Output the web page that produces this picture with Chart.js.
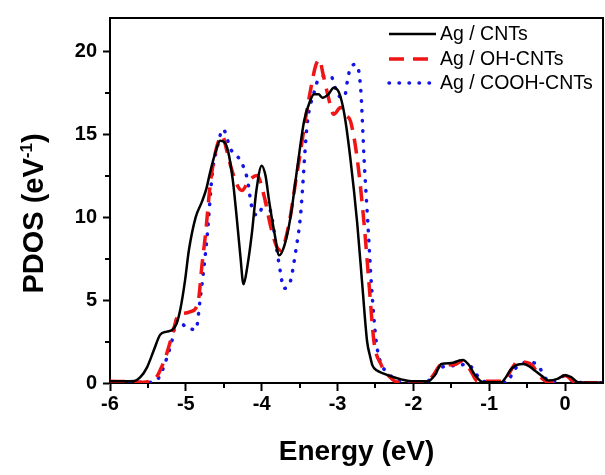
<!DOCTYPE html>
<html>
<head>
<meta charset="utf-8">
<script src="https://cdn.jsdelivr.net/npm/chart.js@4.4.1/dist/chart.umd.min.js"></script>
<style>
  html, body { margin: 0; padding: 0; background: #fff; }
</style>
</head>
<body>
<canvas id="pdosChart" width="605" height="475"></canvas>
<script>
// values
const cntsE = [-6.0, -5.8, -5.68, -5.6, -5.51, -5.42, -5.34, -5.25, -5.18, -5.12, -5.07, -5.01, -4.96, -4.87, -4.79, -4.73,
  -4.68, -4.61, -4.55, -4.49, -4.44, -4.38, -4.33, -4.28, -4.24, -4.19, -4.13, -4.07, -4.0, -3.95, -3.90, -3.83,
  -3.77, -3.70, -3.62, -3.53, -3.44, -3.37, -3.31, -3.25, -3.20, -3.12, -3.05, -2.98, -2.91, -2.83, -2.74, -2.67,
  -2.61, -2.57, -2.54, -2.48, -2.39, -2.28, -2.16, -2.0, -1.81, -1.72, -1.63, -1.50, -1.40, -1.35, -1.27, -1.19,
  -1.08, -0.84, -0.78, -0.71, -0.63, -0.55, -0.47, -0.40, -0.30, -0.22, -0.10, 0.0, 0.08, 0.17, 0.3, 0.5];
const cntsV = [0.1, 0.1, 0.12, 0.35, 0.96, 2.0, 2.9, 3.1, 3.2, 3.6, 4.5, 6.2, 8.0, 10.0, 10.9, 11.7,
  12.7, 13.9, 14.6, 14.5, 13.9, 12.2, 10.0, 7.6, 5.95, 7.0, 9.0, 11.6, 13.1, 12.5, 10.9, 9.0,
  7.7, 8.3, 10.0, 13.0, 15.8, 16.9, 17.4, 17.4, 17.2, 17.4, 17.8, 17.5, 16.2, 13.5, 9.6, 5.7,
  2.5, 1.6, 1.06, 0.75, 0.57, 0.38, 0.22, 0.1, 0.1, 0.45, 1.15, 1.2, 1.35, 1.39, 1.1, 0.5,
  0.05, 0.05, 0.35, 0.85, 1.1, 1.15, 1.0, 0.75, 0.4, 0.15, 0.25, 0.47, 0.35, 0.05, 0.02, 0.02];

const ohE = [-6.0, -5.7, -5.56, -5.45, -5.38, -5.32, -5.25, -5.18, -5.10, -5.02, -4.94, -4.87, -4.83, -4.79, -4.74, -4.68,
  -4.61, -4.52, -4.46, -4.41, -4.32, -4.26, -4.17, -4.06, -3.97, -3.88, -3.80, -3.75, -3.64, -3.55, -3.49, -3.42,
  -3.35, -3.29, -3.24, -3.19, -3.13, -3.05, -2.96, -2.88, -2.83, -2.74, -2.65, -2.58, -2.52, -2.43, -2.32, -2.2,
  -1.85, -1.75, -1.63, -1.46, -1.37, -1.26, -1.15, -0.82, -0.75, -0.62, -0.53, -0.44, -0.33, -0.22, -0.1, 0.0,
  0.13, 0.3, 0.5];
const ohV = [0.1, 0.08, 0.05, 0.15, 0.4, 0.96, 1.8, 2.9, 4.1, 4.2, 4.3, 4.5, 5.1, 7.0, 9.0, 11.9,
  13.9, 14.9, 14.0, 13.1, 11.9, 11.6, 12.2, 12.5, 11.3, 9.4, 8.2, 8.0, 9.6, 12.2, 13.9, 16.0,
  17.8, 19.1, 19.5, 18.6, 17.4, 16.2, 16.6, 16.1, 15.8, 13.5, 9.6, 5.7, 2.5, 1.15, 0.4, 0.05,
  0.05, 0.4, 1.1, 1.1, 1.3, 0.85, 0.1, 0.1, 0.5, 1.3, 1.25, 1.1, 0.4, 0.05, 0.2, 0.45,
  0.05, 0.02, 0.02];

const coohE = [-6.0, -5.6, -5.43, -5.36, -5.29, -5.18, -5.12, -5.05, -4.99, -4.93, -4.87, -4.81, -4.72, -4.65, -4.59, -4.51,
  -4.41, -4.28, -4.19, -4.13, -4.04, -3.97, -3.88, -3.80, -3.75, -3.71, -3.66, -3.62, -3.55, -3.49, -3.40, -3.31,
  -3.24, -3.16, -3.09, -3.00, -2.91, -2.87, -2.83, -2.76, -2.72, -2.69, -2.65, -2.60, -2.55, -2.49, -2.43, -2.34,
  -2.2, -1.85, -1.77, -1.63, -1.41, -1.28, -1.19, -1.08, -0.75, -0.71, -0.64, -0.49, -0.36, -0.27, -0.18, -0.08,
  0.0, 0.13, 0.3, 0.5];
const coohV = [0.05, 0.05, 0.05, 0.3, 1.0, 2.6, 3.8, 3.6, 3.3, 3.25, 3.2, 5.1, 8.8, 12.7, 14.1, 15.3,
  14.1, 13.4, 12.3, 10.6, 10.1, 10.9, 10.3, 8.0, 6.6, 5.7, 5.8, 6.15, 8.0, 10.0, 15.6, 17.5,
  18.4, 18.5, 18.5, 17.4, 17.2, 18.2, 19.0, 19.2, 18.8, 17.4, 13.5, 9.6, 5.7, 2.5, 1.2, 0.65,
  0.1, 0.05, 0.25, 0.95, 1.05, 1.15, 0.65, 0.1, 0.05, 0.45, 0.95, 1.25, 1.1, 0.35, 0.05, 0.25,
  0.45, 0.05, 0.02, 0.02];

const seriesNames = ['Ag / CNTs', 'Ag / OH-CNTs', 'Ag / COOH-CNTs'];
const xTicksMinor = [-5.5, -4.5, -3.5, -2.5, -1.5, -0.5];
const yTicksMinor = [2.5, 7.5, 12.5, 17.5];

const FONT = '"Liberation Sans", Arial, Helvetica, sans-serif';

function toPoints(xs, ys) {
  return xs.map((x, i) => ({ x: x, y: ys[i] }));
}

// frame, minor ticks, axis titles and legend
const decorPlugin = {
  id: 'decor',
  beforeDraw(chart) {
    const c = chart.ctx;
    c.save();
    c.fillStyle = '#fff';
    c.fillRect(0, 0, chart.width, chart.height);
    c.restore();
  },
  afterDraw(chart) {
    const c = chart.ctx;
    const a = chart.chartArea;
    const xs = chart.scales.x, ys = chart.scales.y;
    c.save();
    c.strokeStyle = '#000';
    c.lineWidth = 2;
    c.beginPath();
    c.moveTo(a.left, a.top);
    c.lineTo(a.right, a.top);
    c.lineTo(a.right, a.bottom);
    c.stroke();

    // minor ticks
    c.beginPath();
    xTicksMinor.forEach(v => {
      const px = Math.round(xs.getPixelForValue(v));
      c.moveTo(px, a.bottom);
      c.lineTo(px, a.bottom + 5);
    });
    yTicksMinor.forEach(v => {
      const py = Math.round(ys.getPixelForValue(v));
      c.moveTo(a.left - 5, py);
      c.lineTo(a.left, py);
    });
    c.stroke();

    // x title
    c.fillStyle = '#000';
    c.font = 'bold 28px ' + FONT;
    c.textAlign = 'center';
    c.textBaseline = 'alphabetic';
    c.fillText('Energy (eV)', (a.left + a.right) / 2, 460);

    // y title with superscript
    c.save();
    c.translate(43, (a.top + a.bottom) / 2 + 13);
    c.rotate(-Math.PI / 2);
    c.textAlign = 'left';
    const big = 'bold 29px ' + FONT, small = 'bold 17px ' + FONT;
    c.font = big;
    const w1 = c.measureText('PDOS (eV').width;
    const w3 = c.measureText(')').width;
    c.font = small;
    const w2 = c.measureText('-1').width;
    let x0 = -(w1 + w2 + w3) / 2;
    c.font = big;
    c.fillText('PDOS (eV', x0, 0);
    c.font = small;
    c.fillText('-1', x0 + w1, -11);
    c.font = big;
    c.fillText(')', x0 + w1 + w2, 0);
    c.restore();

    // legend
    const rows = [34, 59, 83];
    chart.data.datasets.forEach((ds, i) => {
      c.save();
      c.strokeStyle = ds.borderColor;
      c.lineWidth = ds.borderWidth;
      c.lineCap = ds.borderCapStyle || 'butt';
      c.setLineDash(ds.borderDash || []);
      c.beginPath();
      c.moveTo(389, rows[i]);
      c.lineTo(436, rows[i]);
      c.stroke();
      c.restore();
      c.fillStyle = '#000';
      c.font = '19.5px ' + FONT;
      c.textAlign = 'left';
      c.textBaseline = 'middle';
      c.fillText(ds.label, 440, rows[i] + 1);
    });
    c.restore();
  }
};

const tickFont = { family: FONT, size: 20, weight: 'bold' };

new Chart(document.getElementById('pdosChart'), {
  type: 'line',
  data: {
    datasets: [
      {
        label: seriesNames[0],
        data: toPoints(cntsE, cntsV),
        borderColor: '#000000',
        borderWidth: 2.5,
        borderDash: []
      },
      {
        label: seriesNames[1],
        data: toPoints(ohE, ohV),
        borderColor: '#f01414',
        borderWidth: 3.5,
        borderDash: [15, 9]
      },
      {
        label: seriesNames[2],
        data: toPoints(coohE, coohV),
        borderColor: '#1414e6',
        borderWidth: 3.5,
        borderCapStyle: 'round',
        borderDash: [0.5, 9.5]
      }
    ]
  },
  options: {
    responsive: false,
    animation: false,
    layout: { padding: { top: 9, right: 2, left: 0, bottom: 0 } },
    elements: {
      point: { radius: 0 },
      line: { cubicInterpolationMode: 'monotone', fill: false }
    },
    plugins: {
      legend: { display: false },
      tooltip: { enabled: false }
    },
    scales: {
      x: {
        type: 'linear',
        min: -6,
        max: 0.5,
        ticks: {
          stepSize: 1,
          includeBounds: false,
          autoSkip: false,
          maxRotation: 0,
          color: '#000',
          font: tickFont,
          padding: 1,
          callback: v => String(v)
        },
        grid: { drawOnChartArea: false, tickLength: 8, tickWidth: 2, tickColor: '#000' },
        border: { display: true, color: '#000', width: 2 },
        afterFit: s => { s.height = 92; }
      },
      y: {
        min: 0,
        max: 22,
        ticks: {
          stepSize: 5,
          includeBounds: false,
          color: '#000',
          font: tickFont,
          padding: 6,
          callback: v => String(v)
        },
        grid: { drawOnChartArea: false, tickLength: 7, tickWidth: 2, tickColor: '#000' },
        border: { display: true, color: '#000', width: 2 },
        afterFit: s => { s.width = 110; }
      }
    }
  },
  plugins: [decorPlugin]
});
</script>
</body>
</html>
